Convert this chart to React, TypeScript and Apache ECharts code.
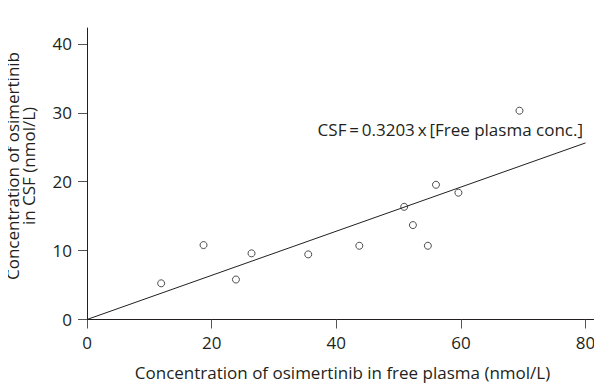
import React, { useEffect, useRef } from "react";
import * as echarts from "echarts";

const freePlasma = [11.9, 18.7, 23.9, 26.4, 35.5, 43.7, 50.9, 52.3, 54.7, 56.0, 59.6, 69.4];
const csf = [5.25, 10.8, 5.8, 9.6, 9.45, 10.7, 16.35, 13.7, 10.7, 19.55, 18.4, 30.3];
const slope = 0.3203;
const fitX = [0, 80];
const xTicks = [0, 20, 40, 60, 80];
const yTicks = [0, 10, 20, 30, 40];
const xTitle = "Concentration of osimertinib in free plasma (nmol/L)";
const yTitle = "Concentration of osimertinib\nin CSF (nmol/L)";
const equation = "CSF\u2009=\u20090.3203\u2009x\u2009[Free plasma conc.]";

const FONT = "Open Sans";
const INK = "#231f20";

export default function App() {
  const ref = useRef<HTMLDivElement>(null);
  useEffect(() => {
    if (!ref.current) return;
    const chart = echarts.init(ref.current, null, { renderer: "svg" });
    chart.setOption({
      animation: false,
      backgroundColor: "#ffffff",
      grid: { left: 87, top: 28, width: 511, height: 291.5 },
      xAxis: {
        type: "value",
        min: 0,
        max: 82,
        name: xTitle,
        nameLocation: "middle",
        nameGap: 44,
        nameTextStyle: { fontFamily: FONT, fontSize: 17, color: INK },
        axisLine: { show: true, lineStyle: { color: INK, width: 1 } },
        axisTick: { show: true, length: 9, lineStyle: { color: "#555" }, customValues: xTicks },
        axisLabel: { customValues: xTicks, fontFamily: FONT, fontSize: 17, color: INK, margin: 14 },
        splitLine: { show: false },
      },
      yAxis: {
        type: "value",
        min: 0,
        max: 42.3,
        axisLine: { show: true, lineStyle: { color: INK, width: 1 } },
        axisTick: { show: true, length: 9, lineStyle: { color: "#555" }, customValues: yTicks },
        axisLabel: { customValues: yTicks, fontFamily: FONT, fontSize: 17, color: INK, margin: 15 },
        splitLine: { show: false },
      },
      graphic: [
        {
          type: "text",
          x: 20,
          y: 166,
          rotation: Math.PI / 2,
          style: {
            text: yTitle,
            fontFamily: FONT,
            fontSize: 17,
            lineHeight: 16,
            fill: INK,
            textAlign: "center",
            textVerticalAlign: "middle",
          },
        },
        {
          type: "text",
          x: 583,
          y: 129,
          style: {
            text: equation,
            fontFamily: FONT,
            fontSize: 17,
            fill: INK,
            textAlign: "right",
            textVerticalAlign: "middle",
          },
        },
      ],
      series: [
        {
          type: "line",
          data: fitX.map((x) => [x, slope * x]),
          showSymbol: false,
          lineStyle: { color: INK, width: 1 },
          silent: true,
        },
        {
          type: "scatter",
          data: freePlasma.map((x, i) => [x, csf[i]]),
          symbol: "circle",
          symbolSize: 7,
          itemStyle: { color: "#ffffff", borderColor: INK, borderWidth: 1 },
        },
      ],
    });
    return () => chart.dispose();
  }, []);
  return <div ref={ref} style={{ width: 602, height: 391, margin: -8 }} />;
}
